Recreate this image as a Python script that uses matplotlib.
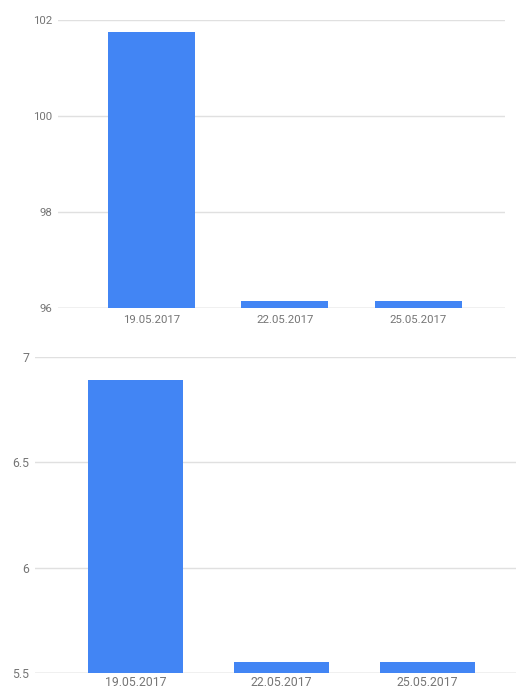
import numpy as np
from matplotlib import pyplot as plt

dates = ['19.05.2017', '22.05.2017', '25.05.2017']
top_values = [101.75, 96.15, 96.15]
bottom_values = [6.89, 5.55, 5.55]
top_ticks = [96, 98, 100, 102]
bottom_ticks = [5.5, 6, 6.5, 7]
bottom_tick_labels = ['5.5', '6', '6.5', '7']

bar_color = '#4285F4'
grid_color = '#e0e0e0'
text_color = '#757575'

plt.rcParams['font.family'] = ['Roboto', 'DejaVu Sans']

W, H = 516, 690
fig = plt.figure(figsize=(W / 100, H / 100), dpi=100)


def make_axes(left, right, top, bottom):
    return fig.add_axes([left / W, 1 - bottom / H, (right - left) / W, (bottom - top) / H])


def style(ax, ticks, labels, ylim, xlim, fs, xpad):
    x = np.arange(len(dates))
    ax.set_xlim(*xlim)
    ax.set_ylim(*ylim)
    ax.set_yticks(ticks)
    ax.set_yticklabels(labels)
    ax.set_xticks(x)
    ax.set_xticklabels(dates)
    for s in ax.spines.values():
        s.set_visible(False)
    ax.grid(axis='y', color=grid_color, linewidth=1)
    ax.set_axisbelow(True)
    ax.tick_params(axis='both', length=0, labelsize=fs, colors=text_color)
    ax.tick_params(axis='y', pad=4)
    ax.tick_params(axis='x', pad=xpad)
    ax.axhline(ylim[0], color='#cccccc', linewidth=1, zorder=0.5)


# top chart
ax1 = make_axes(58, 505, 20, 308)
x = np.arange(len(dates))
ax1.bar(x, np.array(top_values) - 96, bottom=96, width=0.65, color=bar_color, zorder=2)
style(ax1, top_ticks, [str(t) for t in top_ticks], (96, 102), (-0.70, 2.65), 8.2, 5)

# bottom chart
ax2 = make_axes(35, 527, 357, 673)
ax2.bar(x, np.array(bottom_values) - 5.5, bottom=5.5, width=0.65, color=bar_color, zorder=2)
style(ax2, bottom_ticks, bottom_tick_labels, (5.5, 7), (-0.69, 2.68), 8.8, 2)

fig.savefig('out.png', dpi=100)
